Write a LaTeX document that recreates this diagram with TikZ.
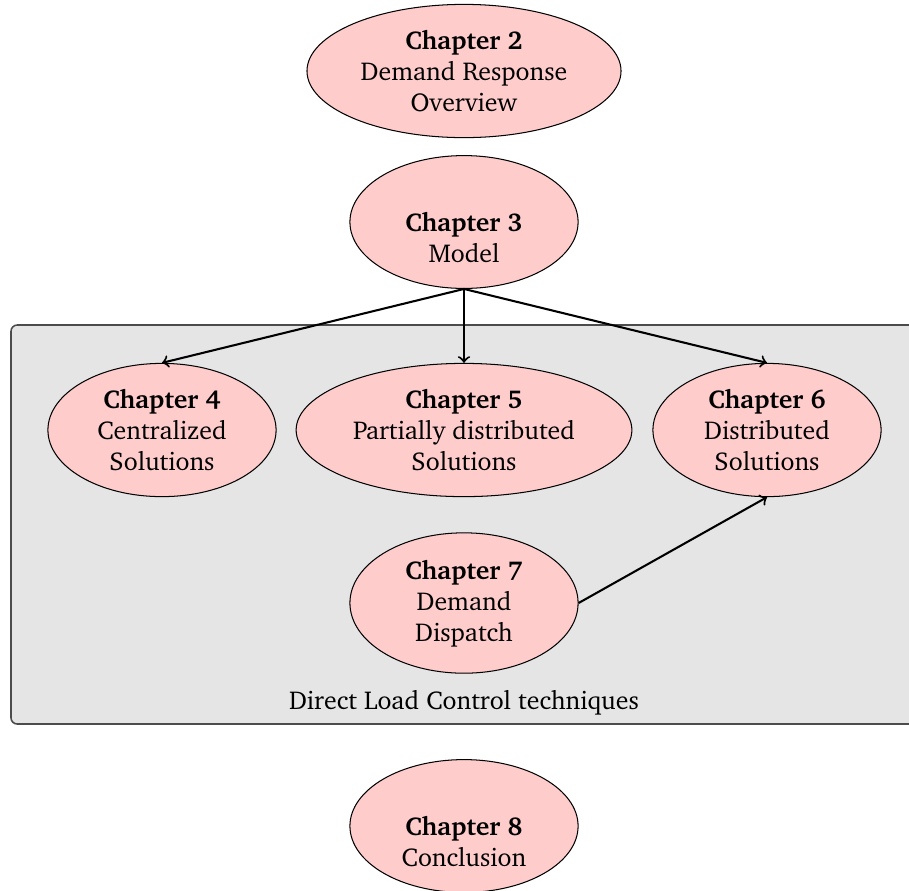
\documentclass[tikz,border=0pt]{standalone}
\usepackage[T1]{fontenc}
\usepackage{charter}
\usetikzlibrary{shapes.geometric}
\tikzset{
  chap/.style={ellipse, draw=black, fill=red!20, align=center, minimum width=88.3pt, inner xsep=3pt, inner ysep=2.4pt, line width=0.4pt},
  conn/.style={->, line width=0.8pt},
  region/.style={draw=black!70, fill=gray!20, rounded corners=2.4pt, line width=0.6pt}
}
\begin{document}
\begin{tikzpicture}[x=0.387pt, y=-0.387pt]
\useasboundingbox (0,0) rectangle (909,890);
\begin{scope}
\clip (0,0) rectangle (909,890);
\draw[region] (11,325) rectangle (940,724);
\end{scope}
\node (lbl) at (464,703) {Direct Load Control techniques};
\node[chap] (c2) at (464,71) {\textbf{Chapter 2}\\Demand Response\\Overview};
\node[chap] (c3) at (464,222) {\vphantom{Ch}\\\textbf{Chapter 3}\\Model};
\node[chap] (c4) at (162,430) {\textbf{Chapter 4}\\Centralized\\Solutions};
\node[chap] (c5) at (464,430) {\textbf{Chapter 5}\\Partially distributed\\Solutions};
\node[chap] (c6) at (767,430) {\textbf{Chapter 6}\\Distributed\\Solutions};
\node[chap] (c7) at (464,603) {\textbf{Chapter 7}\\Demand\\Dispatch};
\node[chap] (c8) at (464,826) {\vphantom{Ch}\\\textbf{Chapter 8}\\Conclusion};
\draw[conn] (c3.south) -- (c4.north);
\draw[conn] (c3.south) -- (c5.north);
\draw[conn] (c3.south) -- (c6.north);
\draw[conn] (c7.east) -- (c6.south);
\end{tikzpicture}
\end{document}
